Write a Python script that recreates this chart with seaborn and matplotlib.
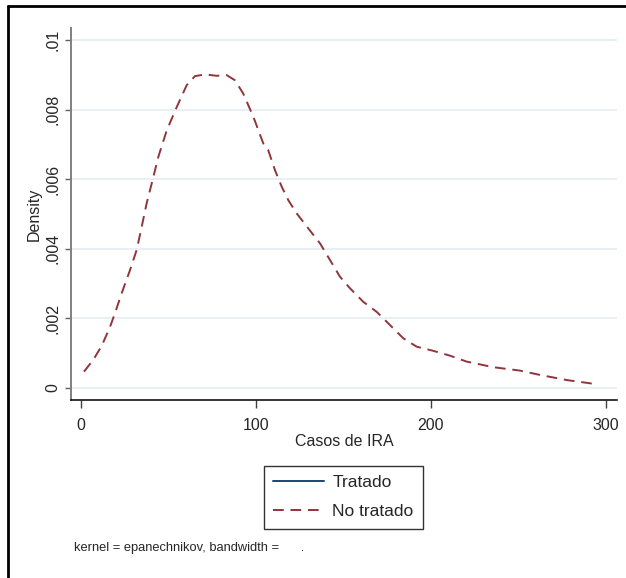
import matplotlib
matplotlib.use("Agg")
import matplotlib.pyplot as plt
from matplotlib.lines import Line2D
import seaborn as sns
import pandas as pd

# Kernel density estimate of IRA cases (untreated group)
no_tratado_x = [1.7, 7.0, 11.8, 16.6, 19.4, 23.2, 28.0, 31.8, 34.7, 37.5, 40.4, 44.2,
                49.0, 54.7, 60.4, 65.1, 70.9, 77.5, 83.3, 88.0, 92.7, 98.5, 104.2,
                107.0, 110.9, 114.7, 118.5, 123.3, 129.9, 136.6, 142.3, 148.0, 153.7,
                161.3, 169.0, 176.6, 184.2, 191.8, 201.3, 210.9, 220.4, 235.6, 251.0,
                262.0, 277.5, 294.7]
no_tratado_y = [0.00046, 0.00080, 0.00120, 0.00175, 0.00214, 0.00271, 0.00338, 0.00396,
                0.00463, 0.00530, 0.00587, 0.00664, 0.00740, 0.00807, 0.00870, 0.00896,
                0.00901, 0.00897, 0.00899, 0.00884, 0.00846, 0.00779, 0.00702,
                0.00683, 0.00625, 0.00578, 0.00539, 0.00501, 0.00458, 0.00415, 0.00367,
                0.00319, 0.00286, 0.00247, 0.00218, 0.00180, 0.00142, 0.00118, 0.00106,
                0.00092, 0.00075, 0.00059, 0.00049, 0.00037, 0.00022, 0.00010]

# Treated group: no estimate available, only shown in the legend
tratado_x = []
tratado_y = []

x_ticks = [0, 100, 200, 300]
y_ticks = [0, 0.002, 0.004, 0.006, 0.008, 0.01]
y_tick_labels = ["0", ".002", ".004", ".006", ".008", ".01"]
series_labels = ["Tratado", "No tratado"]
note_text = "kernel = epanechnikov, bandwidth =      ."

NAVY = "#1a476f"
MAROON = "#90353b"
GRID = "#e6eff2"

sns.set_style("white")
plt.rcParams["font.family"] = ["Liberation Sans", "DejaVu Sans"]

W, H = 626, 578
fig = plt.figure(figsize=(W / 100, H / 100), dpi=100)
ax = fig.add_axes([71 / W, 1 - 400 / H, 546 / W, (400 - 28.3) / H])

df = pd.DataFrame({"x": no_tratado_x, "y": no_tratado_y})
ax.plot(tratado_x, tratado_y, color=NAVY, lw=1.4, label=series_labels[0])
sns.lineplot(data=df, x="x", y="y", ax=ax, color=MAROON, lw=1.4,
             linestyle=(0, (5.5, 3.5)), sort=False, estimator=None,
             label=series_labels[1], legend=False)

ax.set_xlim(-5.71, 306.3)
ax.set_ylim(-0.000354, 0.010336)
ax.set_xticks(x_ticks)
ax.set_xticklabels([str(v) for v in x_ticks])
ax.set_yticks(y_ticks)
ax.set_yticklabels(y_tick_labels, rotation=90, va="center")

ax.grid(axis="y", color=GRID, lw=1.3)
ax.grid(axis="x", visible=False)
ax.set_axisbelow(True)

for s in ["top", "right"]:
    ax.spines[s].set_visible(False)
ax.spines["left"].set_color("#808080")
ax.spines["left"].set_linewidth(1.4)
ax.spines["bottom"].set_color("black")
ax.spines["bottom"].set_linewidth(1.1)

ax.tick_params(axis="x", direction="out", length=6, width=1, color="#404040",
               labelsize=11.5, pad=7, bottom=True)
ax.tick_params(axis="y", direction="out", length=4.5, width=1, color="#606060",
               labelsize=11.5, pad=3, left=True)

ax.set_xlabel("Casos de IRA", fontsize=11.5, labelpad=1)
ax.set_ylabel("Density", fontsize=11.5, labelpad=3)

handles = [Line2D([], [], color=NAVY, lw=1.4),
           Line2D([], [], color=MAROON, lw=1.4, linestyle=(0, (5.5, 3.5)))]
leg = fig.legend(handles, series_labels, loc="center",
                 bbox_to_anchor=(343.3 / W, 1 - 497.4 / H),
                 fontsize=12.5, frameon=True, fancybox=False, shadow=False,
                 handlelength=2.95, handletextpad=0.45, borderpad=0.55,
                 labelspacing=0.8)
leg.get_frame().set_edgecolor("black")
leg.get_frame().set_linewidth(1.0)
leg.get_frame().set_facecolor("white")

fig.text(74 / W, 1 - 548 / H, note_text, fontsize=9.3, va="center", ha="left")

# outer graph frame
fig.add_artist(Line2D([8 / W, 1.0], [1 - 6 / H, 1 - 6 / H], color="black",
                      lw=2.0, transform=fig.transFigure))
fig.add_artist(Line2D([8 / W, 8 / W], [1 - 6 / H, 0.0], color="black",
                      lw=2.0, transform=fig.transFigure))

fig.savefig("out.png", dpi=100)
